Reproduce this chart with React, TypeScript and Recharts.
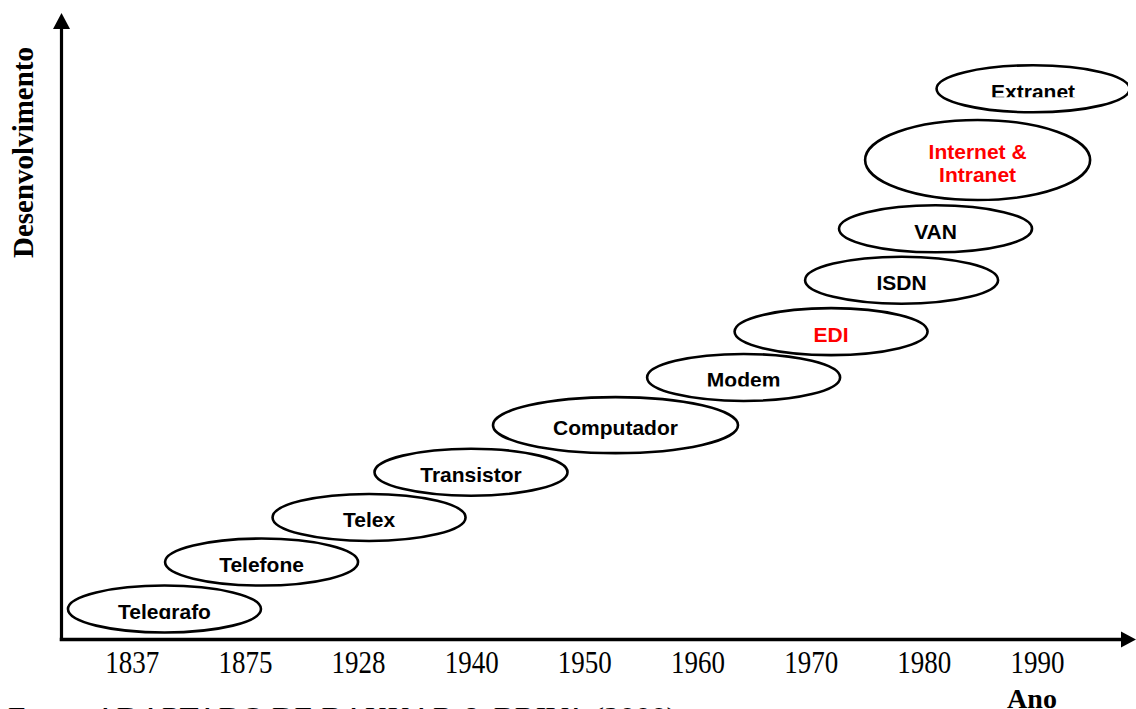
import React from 'react';
import { ScatterChart, Scatter, XAxis, YAxis, ReferenceDot } from 'recharts';

// Tick labels (year slots along the horizontal axis)
const years = ['1837', '1875', '1928', '1940', '1950', '1960', '1970', '1980', '1990'];
const yearSlots = [0, 1, 2, 3, 4, 5, 6, 7, 8];

// Technologies (ellipses): name, position in year-slot units, development level (0-100)
const techNames = [
  'Telegrafo',
  'Telefone',
  'Telex',
  'Transistor',
  'Computador',
  'Modem',
  'EDI',
  'ISDN',
  'VAN',
  'Internet &\nIntranet',
  'Extranet',
];
const techSlot = [0.285, 1.143, 2.093, 2.994, 4.271, 5.403, 6.176, 6.799, 7.099, 7.471, 7.961];
const techLevel = [4.92, 12.5, 19.7, 27.0, 34.6, 42.3, 49.7, 58.0, 66.3, 77.4, 88.9];
const highlighted = ['EDI', 'Internet &\nIntranet'];

const data = techNames.map((name, i) => ({ name, x: techSlot[i], y: techLevel[i] }));

const X_DOMAIN: [number, number] = [-0.625, 8.8];
const Y_DOMAIN: [number, number] = [0, 100];

// styles (sizes of ellipses, clipping of labels)
const DEFAULT_SIZE: [number, number] = [96.5, 23.5];
const SIZE: Record<string, [number, number]> = {
  Computador: [122.5, 28],
  'Internet &\nIntranet': [112.5, 40],
};
const CLIP: Record<string, number> = { Telegrafo: 10, Modem: 9, Extranet: 8.5 };

const SANS = "'Liberation Sans', Arial, Helvetica, sans-serif";
const SERIF = "'Liberation Serif', 'Times New Roman', Times, serif";

const EllipseShape = (props: any) => {
  const { cx, cy, payload } = props;
  const name: string = payload.name;
  const [rx, ry] = SIZE[name] ?? DEFAULT_SIZE;
  const lines = name.split('\n');
  const color = highlighted.includes(name) ? '#ff0000' : '#000000';
  const clipId = 'clip-' + name.replace(/[^a-zA-Z]/g, '');
  const clip = CLIP[name];
  return (
    <g>
      {clip !== undefined && (
        <defs>
          <clipPath id={clipId}>
            <rect x={cx - rx} y={cy - ry} width={rx * 2} height={ry + clip} />
          </clipPath>
        </defs>
      )}
      <ellipse cx={cx} cy={cy} rx={rx} ry={ry} fill="none" stroke="#000" strokeWidth={2.6} />
      <text
        textAnchor="middle"
        fontFamily={SANS}
        fontWeight="bold"
        fontSize={21}
        fill={color}
        clipPath={clip !== undefined ? `url(#${clipId})` : undefined}
      >
        {lines.map((l, k) => (
          <tspan key={k} x={cx} y={cy + 10 + (k - (lines.length - 1) / 2) * 23}>
            {l}
          </tspan>
        ))}
      </text>
    </g>
  );
};

const YearTick = (props: any) => {
  const { x, y, payload } = props;
  return (
    <text
      x={x}
      y={y + 33.5}
      textAnchor="middle"
      fontFamily={SERIF}
      fontSize={31}
      textLength={54}
      lengthAdjust="spacingAndGlyphs"
      fill="#000"
    >
      {years[payload.value]}
    </text>
  );
};

const ArrowRight = (props: any) => {
  const { cx, cy } = props;
  return <polygon points={`${cx + 8},${cy} ${cx - 7},${cy - 8} ${cx - 7},${cy + 8}`} fill="#000" />;
};

const ArrowUp = (props: any) => {
  const { cx, cy } = props;
  return <polygon points={`${cx},${cy - 7} ${cx - 8.5},${cy + 9} ${cx + 8.5},${cy + 9}`} fill="#000" />;
};

export default function App() {
  return (
    <div style={{ position: 'absolute', left: 0, top: 0, width: 1136, height: 709, background: '#fff' }}>
      <ScatterChart width={1136} height={709} margin={{ top: 20, right: 8, bottom: 0, left: 60.5 }}>
        <XAxis
          type="number"
          dataKey="x"
          domain={X_DOMAIN}
          allowDataOverflow
          ticks={yearSlots}
          interval={0}
          height={69.5}
          tickSize={0}
          tickMargin={0}
          tickLine={false}
          axisLine={{ stroke: '#000', strokeWidth: 3.5, strokeLinecap: 'square' }}
          tick={<YearTick />}
        />
        <YAxis
          type="number"
          dataKey="y"
          domain={Y_DOMAIN}
          allowDataOverflow
          width={1}
          tick={false}
          tickLine={false}
          axisLine={{ stroke: '#000', strokeWidth: 3.2, strokeLinecap: 'square' }}
        />
        <Scatter data={data} shape={<EllipseShape />} isAnimationActive={false} />
        <ReferenceDot x={X_DOMAIN[1]} y={Y_DOMAIN[0]} ifOverflow="visible" shape={<ArrowRight />} />
        <ReferenceDot x={X_DOMAIN[0]} y={Y_DOMAIN[1]} ifOverflow="visible" shape={<ArrowUp />} />
      </ScatterChart>
      <svg
        width={1136}
        height={709}
        style={{ position: 'absolute', left: 0, top: 0, pointerEvents: 'none' }}
      >
        <text
          x={33}
          y={152.5}
          transform="rotate(-90, 33, 152.5)"
          textAnchor="middle"
          fontFamily={SERIF}
          fontWeight="bold"
          fontSize={29}
          fill="#000"
        >
          Desenvolvimento
        </text>
        <text x={1032} y={708} textAnchor="middle" fontFamily={SERIF} fontWeight="bold" fontSize={28} fill="#000">
          Ano
        </text>
        <text
          x={8}
          y={725}
          fontFamily={SERIF}
          fontSize={26}
          textLength={669}
          lengthAdjust="spacingAndGlyphs"
          fill="#000"
        >
          Fonte: ADAPTADO DE BAKKAR &amp; BRIVA (2000)
        </text>
      </svg>
    </div>
  );
}
